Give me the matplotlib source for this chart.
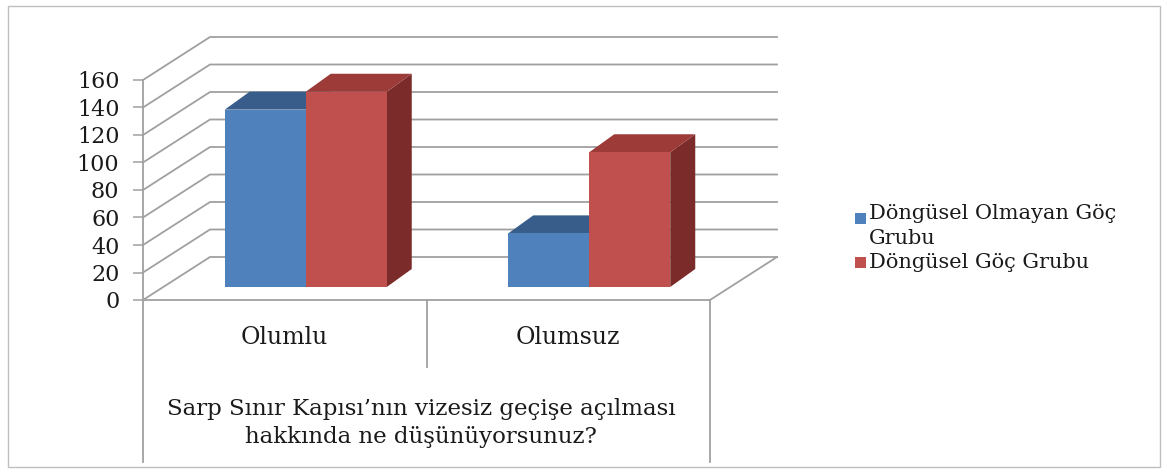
import matplotlib
matplotlib.use("Agg")
import matplotlib.pyplot as plt
from matplotlib.patches import Polygon, Rectangle

# ---------------- data ----------------
categories = ["Olumlu", "Olumsuz"]
series_names = ["Döngüsel Olmayan Göç\nGrubu", "Döngüsel Göç Grubu"]
non_circular = [129, 39]      # Döngüsel Olmayan Göç Grubu
circular = [142, 98]          # Döngüsel Göç Grubu
yticks = [0, 20, 40, 60, 80, 100, 120, 140, 160]
axis_title = "Sarp Sınır Kapısı’nın vizesiz geçişe açılması\nhakkında ne düşünüyorsunuz?"

# ---------------- style ----------------
plt.rcParams['font.family'] = ['DejaVu Serif', 'DejaVu Sans']
W, H = 1167, 473
front_cols = ["#4F81BD", "#C0504D"]
top_cols = ["#385D8A", "#9C3B38"]
side_cols = ["#2F4F77", "#7B2B29"]
grid_col = "#A0A0A0"
text_col = "#1A1A1A"

fig = plt.figure(figsize=(W / 100, H / 100), dpi=100)
fig.patch.set_facecolor("white")

# axes = front plane of the 3D box
ax_l, ax_r, ax_t, ax_b = 143, 710, 80, 300
ax = fig.add_axes([ax_l / W, 1 - ax_b / H, (ax_r - ax_l) / W, (ax_b - ax_t) / H])
ax.set_xlim(0, len(categories))
ax.set_ylim(yticks[0], yticks[-1])
ax.patch.set_alpha(0)

kx = (ax_r - ax_l) / len(categories)       # px per category unit
ky = (ax_b - ax_t) / (yticks[-1] - yticks[0])  # px per value unit


def dvec(px_dx, px_dy):
    return px_dx / kx, px_dy / ky


wall = dvec(67, 43)
bar_front = dvec(21, 13)
bar_depth = dvec(25, 18)
bar_w = 81 / kx
n = len(categories)

# walls / gridlines
for t in yticks:
    ax.plot([0, wall[0], n + wall[0]], [t, t + wall[1], t + wall[1]],
            color=grid_col, lw=1.3, clip_on=False, zorder=1)
ax.plot([n, n + wall[0]], [0, wall[1]], color=grid_col, lw=1.3,
        clip_on=False, zorder=1)

# bars
series = [non_circular, circular]
for i in range(n):
    center = i + 0.5
    for s, vals in enumerate(series):
        h = vals[i]
        x0 = center - bar_w + s * bar_w + bar_front[0]
        y0 = bar_front[1]
        z = 3 + s * 3
        side = Polygon([(x0 + bar_w, y0), (x0 + bar_w + bar_depth[0], y0 + bar_depth[1]),
                        (x0 + bar_w + bar_depth[0], y0 + h + bar_depth[1]), (x0 + bar_w, y0 + h)],
                       closed=True, fc=side_cols[s], ec='none', clip_on=False, zorder=z)
        top = Polygon([(x0, y0 + h), (x0 + bar_w, y0 + h),
                       (x0 + bar_w + bar_depth[0], y0 + h + bar_depth[1]),
                       (x0 + bar_depth[0], y0 + h + bar_depth[1])],
                      closed=True, fc=top_cols[s], ec='none', clip_on=False, zorder=z + 1)
        ax.add_patch(side)
        ax.add_patch(top)
        ax.bar(x0, h, width=bar_w, bottom=y0, align='edge', color=front_cols[s],
               edgecolor='none', zorder=z + 2, clip_on=False)

# spines & ticks
for sp in ['top', 'right']:
    ax.spines[sp].set_visible(False)
for sp in ['left', 'bottom']:
    ax.spines[sp].set_color(grid_col)
    ax.spines[sp].set_linewidth(1.3)
    ax.spines[sp].set_zorder(2)
ax.set_yticks(yticks)
ax.set_yticklabels([str(t) for t in yticks])
ax.tick_params(axis='y', direction='out', length=7, width=1.1, color=grid_col,
               pad=10, labelsize=16, labelcolor=text_col)
ax.set_xticks([])

# category separators (axes fraction)
def fy(py):
    return (ax_b - py) / (ax_b - ax_t)

def fx(px):
    return (px - ax_l) / (ax_r - ax_l)

for xx, bottom in [(0.0, 462), (0.5, 367), (1.0, 462)]:
    ax.plot([xx, xx], [0, fy(bottom)], transform=ax.transAxes, color=grid_col,
            lw=1.3, clip_on=False, zorder=1)

for i, c in enumerate(categories):
    ax.text((i + 0.5) / n, fy(337), c, transform=ax.transAxes, ha='center', va='center',
            fontsize=17, color=text_col)

ax.text(fx(421), fy(423), axis_title, transform=ax.transAxes, ha='center', va='center',
        fontsize=16.5, color=text_col, linespacing=1.35)

# legend (manual)
for s, name in enumerate(series_names):
    sq_top = [213, 257][s]
    fig.add_artist(Rectangle((855 / W, 1 - (sq_top + 11) / H), 11 / W, 11 / H,
                             transform=fig.transFigure, fc=front_cols[s], ec='none'))
    fig.text(869 / W, 1 - [226, 262][s] / H, name, ha='left', va='center',
             fontsize=15, color=text_col, linespacing=1.35)

# outer chart border
fig.add_artist(Rectangle((8 / W, 1 - 467 / H), (1160 - 8) / W, (467 - 6) / H,
                         transform=fig.transFigure, fill=False, ec='#BFBFBF', lw=1))

fig.savefig("out.png", dpi=100)
